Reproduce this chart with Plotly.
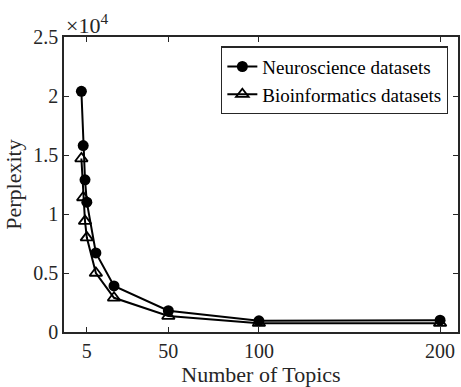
import plotly.graph_objects as go

topics = [2, 3, 4, 5, 10, 20, 50, 100, 200]
neuro = [20400, 15800, 12900, 11000, 6700, 3900, 1800, 950, 1000]
bio = [14700, 11400, 9400, 8000, 5000, 2900, 1350, 750, 750]

xtick_vals = [5, 50, 100, 200]
ytick_vals = [0, 5000, 10000, 15000, 20000, 25000]
ytick_text = ["0", "0.5", "1", "1.5", "2", "2.5"]

FONT = "Liberation Serif"
TXT = "#262626"

fig = go.Figure()
fig.add_trace(go.Scatter(
    x=topics, y=neuro, mode="lines+markers", name="Neuroscience datasets",
    line=dict(color="black", width=2),
    marker=dict(symbol="circle", size=11, color="black"),
))
fig.add_trace(go.Scatter(
    x=topics, y=bio, mode="lines+markers", name="Bioinformatics datasets",
    line=dict(color="black", width=2),
    marker=dict(symbol="triangle-up-open", size=11, color="black", line=dict(width=1.8)),
))

axis_common = dict(
    showline=True, linecolor=TXT, linewidth=1.5, mirror="allticks",
    ticks="inside", ticklen=5, tickwidth=1.2, tickcolor=TXT,
    showgrid=False, zeroline=False,
    tickfont=dict(family=FONT, size=20, color=TXT),
)

fig.update_layout(
    width=461, height=387,
    margin=dict(l=64, r=1, t=37, b=55),
    paper_bgcolor="white", plot_bgcolor="white",
    font=dict(family=FONT, color=TXT),
    xaxis=dict(range=[-7.6, 209.9], tickvals=xtick_vals,
               title=dict(text="Number of Topics", font=dict(family=FONT, size=22, color=TXT), standoff=2),
               **axis_common),
    yaxis=dict(range=[0, 25000], tickvals=ytick_vals, ticktext=ytick_text,
               title=dict(text="Perplexity", font=dict(family=FONT, size=22, color=TXT), standoff=6),
               **axis_common),
    legend=dict(x=0.975, y=0.968, xanchor="right", yanchor="top",
                bordercolor=TXT, borderwidth=1.2, bgcolor="white",
                font=dict(family=FONT, size=19, color="black"),
                tracegroupgap=0, itemwidth=30),
    showlegend=True,
    annotations=[dict(
        xref="paper", yref="paper", x=0.0, y=1.0, xanchor="left", yanchor="bottom",
        text="×10<sup>4</sup>", showarrow=False, xshift=0, yshift=-3,
        font=dict(family=FONT, size=22, color=TXT),
    )],
)

fig.write_html("out.html")
